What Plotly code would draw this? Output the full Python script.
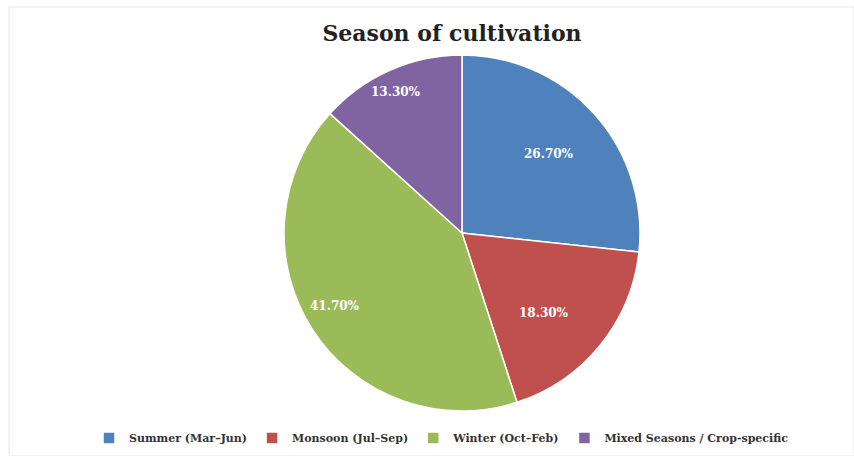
import math
import plotly.graph_objects as go

# Share of crops by season of cultivation
seasons = ["Summer (Mar–Jun)", "Monsoon (Jul–Sep)", "Winter (Oct–Feb)", "Mixed Seasons / Crop-specific"]
shares = [26.7, 18.3, 41.7, 13.3]
colors = ["#4F81BD", "#C0504D", "#9BBB59", "#8064A2"]

W, H = 854, 456
cx, cy, r = 462, 233, 178
# radial placement of each percentage label, as a fraction of the radius
label_radius = [0.66, 0.79, 0.85, 0.92]

fig = go.Figure(go.Pie(
    labels=seasons,
    values=shares,
    sort=False,
    direction="clockwise",
    rotation=0,
    marker=dict(colors=colors, line=dict(color="white", width=1.5)),
    textinfo="none",
    hoverinfo="label+percent",
    domain=dict(x=[(cx - r) / W, (cx + r) / W], y=[1 - (cy + r) / H, 1 - (cy - r) / H]),
))

# percentage labels placed along each slice's mid-angle
total = sum(shares)
cum = 0.0
annotations = []
for v, f in zip(shares, label_radius):
    theta = 2 * math.pi * (cum + v / 2) / total
    cum += v
    px = cx + f * r * math.sin(theta)
    py = cy - f * r * math.cos(theta)
    annotations.append(dict(
        x=px / W, y=1 - py / H, xref="paper", yref="paper",
        text=f"<b>{v:.2f}%</b>", showarrow=False,
        font=dict(family="DejaVu Serif", size=12, color="white"),
    ))

fig.update_layout(
    width=W, height=H,
    margin=dict(l=0, r=0, t=0, b=0),
    paper_bgcolor="white",
    title=dict(
        text="<b>Season of cultivation</b>",
        x=452 / W, xanchor="center", y=1 - 33 / H, yanchor="middle",
        font=dict(family="DejaVu Serif", size=22, color="#222222"),
    ),
    legend=dict(
        orientation="h", x=0.517, xanchor="center", y=1 - 438 / H, yanchor="middle",
        font=dict(family="DejaVu Serif", size=11, color="#333333", weight="bold"),
        itemwidth=30, traceorder="normal",
    ),
    annotations=annotations,
    shapes=[dict(
        type="rect", xref="paper", yref="paper",
        x0=9 / W, x1=1, y0=0, y1=1 - 7 / H,
        line=dict(color="#e6e6e6", width=1), fillcolor="rgba(0,0,0,0)", layer="below",
    )],
)

fig.write_html("out.html")
